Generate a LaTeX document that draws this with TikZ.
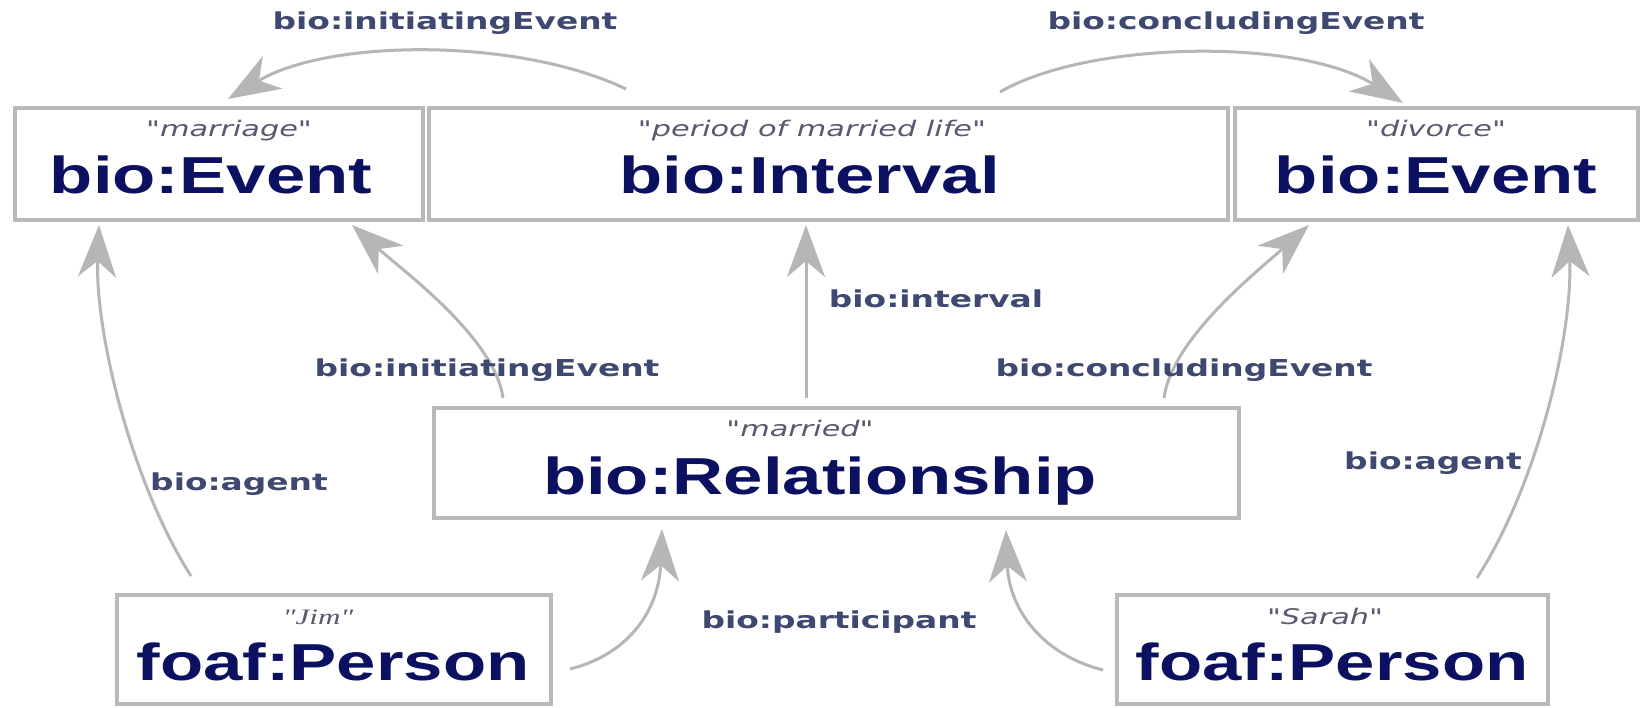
\documentclass[tikz,border=0pt]{standalone}
\usepackage{fontspec}
\usepackage{graphicx}
\usetikzlibrary{arrows.meta,calc}
\newfontfamily\typefont{Liberation Sans}
\newfontfamily\labfont{DejaVu Sans}
\newfontfamily\qfont{DejaVu Sans}
\newfontfamily\qserif{Liberation Serif}
\newcommand\sx[1]{\scalebox{1.41}[1]{#1}}
\newcommand\sxb[1]{\scalebox{1.36}[1]{#1}}
\definecolor{typeblue}{RGB}{12,16,96}
\definecolor{labblue}{RGB}{62,72,112}
\definecolor{quotegray}{RGB}{88,88,110}
\definecolor{boxgray}{RGB}{185,185,185}
\definecolor{arrowgray}{RGB}{182,182,182}
\tikzset{
  box/.style={draw=boxgray, line width=4pt, fill=white, inner sep=0pt},
  typetxt/.style={font=\typefont\bfseries\fontsize{52}{52}\selectfont, text=typeblue, anchor=base, inner sep=0pt},
  qtxt/.style={font=\qfont\itshape\fontsize{21.5}{21.5}\selectfont, text=quotegray, anchor=base, inner sep=0pt},
  qstxt/.style={font=\qserif\itshape\fontsize{22}{22}\selectfont, text=quotegray, anchor=base, inner sep=0pt},
  lab/.style={font=\labfont\bfseries\fontsize{23.3}{23.3}\selectfont, text=labblue, anchor=base, inner sep=0pt},
  conn/.style={draw=arrowgray, line width=3pt, -{Stealth[length=52pt,width=38pt,inset=16pt]}}
}
\begin{document}
\begin{tikzpicture}[x=1pt,y=-1pt]
\fill[white] (0,0) rectangle (1642,708);
\useasboundingbox (0,0) rectangle (1642,708);
% boxes
\node[box, minimum width=408pt, minimum height=112pt] (ev1) at (219,164) {};
\node[box, minimum width=799pt, minimum height=112pt] (int) at (828.5,164) {};
\node[box, minimum width=403pt, minimum height=112pt] (ev2) at (1436.5,164) {};
\node[box, minimum width=805pt, minimum height=110pt] (rel) at (836.5,463) {};
\node[box, minimum width=434pt, minimum height=109pt] (jim) at (334,649.5) {};
\node[box, minimum width=431pt, minimum height=109pt] (sarah) at (1332.5,649.5) {};
% box texts
\node[qtxt] (ev1q) at (229,137) {\sx{"marriage"}};
\node[typetxt] (ev1t) at (211,194) {\sxb{bio:Event}};
\node[qtxt] (intq) at (812,137) {\sx{"period of married life"}};
\node[typetxt] (intt) at (810,194) {\sxb{bio:Interval}};
\node[qtxt] (ev2q) at (1436,137) {\sx{"divorce"}};
\node[typetxt] (ev2t) at (1436,194) {\sxb{bio:Event}};
\node[qtxt] (relq) at (800,437) {\sx{"married"}};
\node[typetxt] (relt) at (820,494) {\sxb{bio:Relationship}};
\node[qstxt] (jimq) at (318,624) {\sx{"Jim"}};
\node[typetxt] (jimt) at (333,680) {\sxb{foaf:Person}};
\node[qtxt] (sarq) at (1325,624) {\sx{"Sarah"}};
\node[typetxt] (sart) at (1332,680) {\sxb{foaf:Person}};
% connectors
\draw[conn] ($(int.north west)+(199,-17)$) .. controls +(-106,-51) and +(102,-61) .. ($(ev1.north west)+(215,-7)$);
\draw[conn] ($(int.north east)+(-230,-14)$) .. controls +(90,-52) and +(-103,-65) .. ($(ev2.north west)+(170,-3)$);
\draw[conn] ($(rel.north west)+(71,-8)$) .. controls +(-8,-60) and +(50,45) .. ($(ev1.south east)+(-73,3)$);
\draw[conn] ($(rel.north west)+(374,-8)$) -- ($(int.south west)+(379,3)$);
\draw[conn] ($(rel.north east)+(-77,-8)$) .. controls +(8,-60) and +(-50,45) .. ($(ev2.south west)+(76,3)$);
\draw[conn] ($(jim.north west)+(76,-17)$) .. controls +(-61,-96) and +(-4,105) .. ($(ev1.south west)+(86,3)$);
\draw[conn] ($(sarah.north east)+(-73,-15)$) .. controls +(63,-98) and +(5,105) .. ($(ev2.south east)+(-72,3)$);
\draw[conn] ($(jim.south east)+(17,-37)$) .. controls +(60,-15) and +(-3,80) .. ($(rel.south west)+(230,9)$);
\draw[conn] ($(sarah.south west)+(-12,-36)$) .. controls +(-60,-15) and +(3,80) .. ($(rel.south east)+(-235,10)$);
% labels
\node[lab] (l1) at (445,30) {\sx{bio:initiatingEvent}};
\node[lab] (l2) at (1236,30) {\sx{bio:concludingEvent}};
\node[lab] (l3) at (487,377) {\sx{bio:initiatingEvent}};
\node[lab] (l4) at (936,308) {\sx{bio:interval}};
\node[lab] (l5) at (1184,377) {\sx{bio:concludingEvent}};
\node[lab] (l6) at (239,490) {\sx{bio:agent}};
\node[lab] (l7) at (1433,470) {\sx{bio:agent}};
\node[lab] (l8) at (839,628) {\sx{bio:participant}};
\end{tikzpicture}
\end{document}
